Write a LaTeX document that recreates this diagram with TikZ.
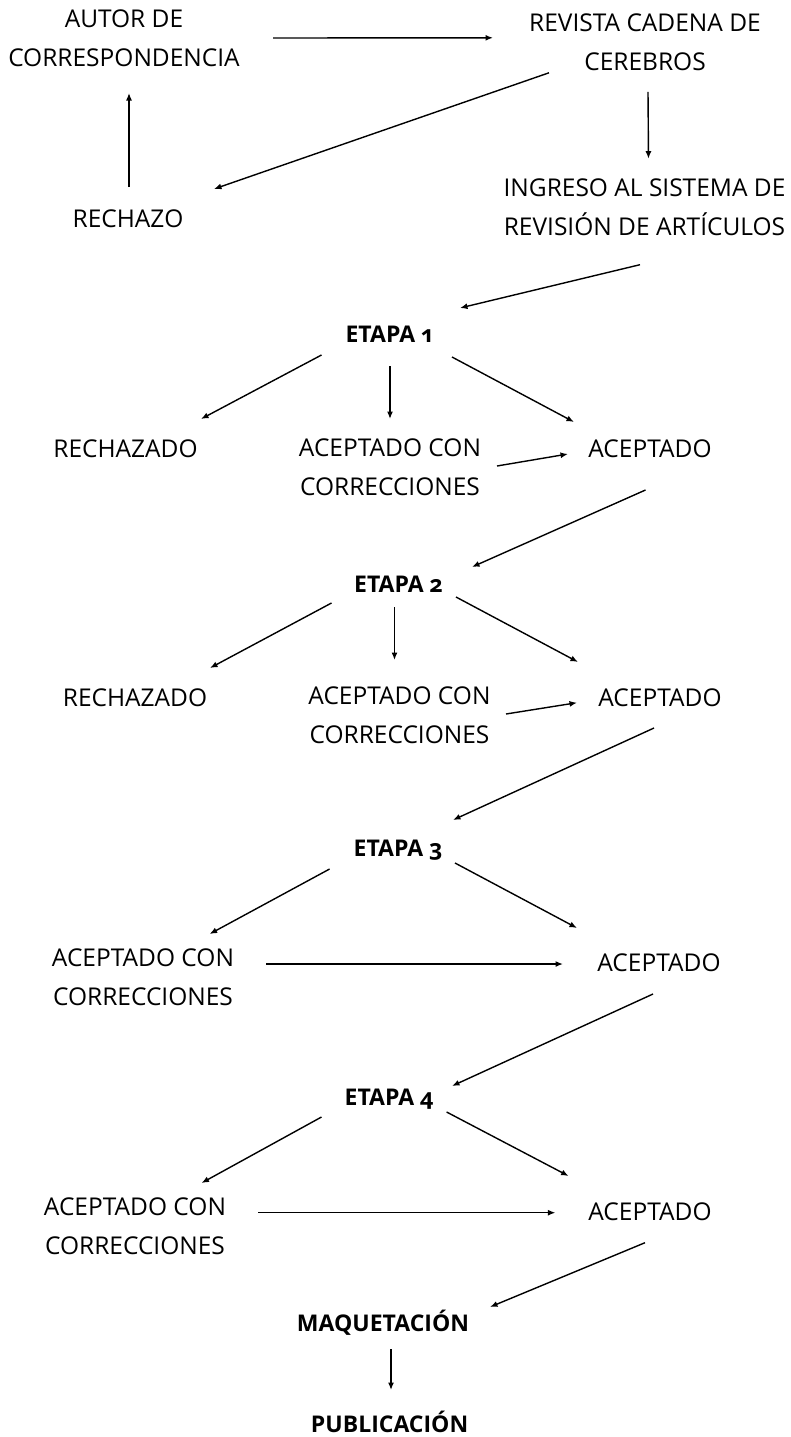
\documentclass[tikz,border=0pt]{standalone}
\usepackage{fontspec}
\setmainfont{Open Sans}[Numbers=OldStyle]
\usetikzlibrary{arrows.meta}

\tikzset{
  lbl/.style={inner sep=0pt, align=center, font=\fontsize{24.5}{39}\selectfont},
  etapa/.style={lbl, font=\fontsize{23}{39}\selectfont\bfseries},
  arr/.style={line width=1.4pt, -{Latex[length=7.5pt,width=6pt]}}
}

\begin{document}
\begin{tikzpicture}[x=1pt,y=-1pt]
\useasboundingbox (0,0) rectangle (790,1437);
% entrada del articulo
\node[lbl] (autor) at (124,38) {AUTOR DE\\CORRESPONDENCIA};
\node[lbl] (revista) at (645,41.8) {REVISTA CADENA DE\\CEREBROS};
\node[lbl, anchor=base] (rechazo) at (128,227) {RECHAZO};
\node[lbl] (ingreso) at (644.5,207.7) {INGRESO AL SISTEMA DE\\REVISIÓN DE ARTÍCULOS};
% etapa 1
\node[etapa, anchor=base] (e1) at (389,342) {ETAPA 1};
\node[lbl, anchor=base] (rz1) at (125.5,457) {RECHAZADO};
\node[lbl] (acc1) at (390,467) {ACEPTADO CON\\CORRECCIONES};
\node[lbl, anchor=base] (ac1) at (650,457) {ACEPTADO};
% etapa 2
\node[etapa, anchor=base] (e2) at (398.5,592) {ETAPA 2};
\node[lbl, anchor=base] (rz2) at (135,706) {RECHAZADO};
\node[lbl] (acc2) at (399.5,715.5) {ACEPTADO CON\\CORRECCIONES};
\node[lbl, anchor=base] (ac2) at (660,706) {ACEPTADO};
% etapa 3
\node[etapa, anchor=base] (e3) at (398,856) {ETAPA 3};
\node[lbl] (acc3) at (143,977) {ACEPTADO CON\\CORRECCIONES};
\node[lbl, anchor=base] (ac3) at (659,971) {ACEPTADO};
% etapa 4
\node[etapa, anchor=base] (e4) at (389,1105) {ETAPA 4};
\node[lbl] (acc4) at (135,1226) {ACEPTADO CON\\CORRECCIONES};
\node[lbl, anchor=base] (ac4) at (650,1220) {ACEPTADO};
% salida
\node[etapa, anchor=base] (maq) at (383,1331) {MAQUETACIÓN};
\node[etapa, anchor=base] (pub) at (389.6,1432) {PUBLICACIÓN};

% flechas
\draw[arr] ([shift={(149,0)}]autor.center) -- ([shift={(-152,-4)}]revista.center);
\draw[arr] ([shift={(-96,31)}]revista.center) -- ([shift={(86,-38)}]rechazo.base);
\draw[arr] ([shift={(3,50)}]revista.center) -- ([shift={(4,-49)}]ingreso.center);
\draw[arr] ([shift={(1,-40)}]rechazo.base) -- ([shift={(5,55)}]autor.center);
\draw[arr] ([shift={(-4.5,57)}]ingreso.center) -- ([shift={(71,-34)}]e1.base);
\draw[arr] ([shift={(-67.5,13)}]e1.base) -- ([shift={(75.5,-38)}]rz1.base);
\draw[arr] ([shift={(1,24)}]e1.base) -- ([shift={(0,-48)}]acc1.center);
\draw[arr] ([shift={(63,15)}]e1.base) -- ([shift={(-76,-35)}]ac1.base);
\draw[arr] ([shift={(107,-1)}]acc1.center) -- ([shift={(-82,-3)}]ac1.base);
\draw[arr] ([shift={(-4.5,33)}]ac1.base) -- ([shift={(73.5,-25)}]e2.base);
\draw[arr] ([shift={(-67,11)}]e2.base) -- ([shift={(75,-38)}]rz2.base);
\draw[arr] ([shift={(-4,15)}]e2.base) -- ([shift={(-5,-55.5)}]acc2.center);
\draw[arr] ([shift={(57.5,5)}]e2.base) -- ([shift={(-82,-44)}]ac2.base);
\draw[arr] ([shift={(106.5,-1.5)}]acc2.center) -- ([shift={(-83,-3.3)}]ac2.base);
\draw[arr] ([shift={(-6,22)}]ac2.base) -- ([shift={(55,-36)}]e3.base);
\draw[arr] ([shift={(-68.4,13)}]e3.base) -- ([shift={(66.6,-43)}]acc3.center);
\draw[arr] ([shift={(57,7)}]e3.base) -- ([shift={(-82,-43)}]ac3.base);
\draw[arr] ([shift={(123,-13)}]acc3.center) -- ([shift={(-96,-7)}]ac3.base);
\draw[arr] ([shift={(-6,23)}]ac3.base) -- ([shift={(63,-19)}]e4.base);
\draw[arr] ([shift={(-67.5,12)}]e4.base) -- ([shift={(66.5,-43)}]acc4.center);
\draw[arr] ([shift={(57.6,7)}]e4.base) -- ([shift={(-81.4,-44)}]ac4.base);
\draw[arr] ([shift={(123,-13.3)}]acc4.center) -- ([shift={(-94.6,-7.3)}]ac4.base);
\draw[arr] ([shift={(-5,22.7)}]ac4.base) -- ([shift={(107,-24)}]maq.base);
\draw[arr] ([shift={(8,18)}]maq.base) -- ([shift={(1.4,-42)}]pub.base);
\end{tikzpicture}
\end{document}
